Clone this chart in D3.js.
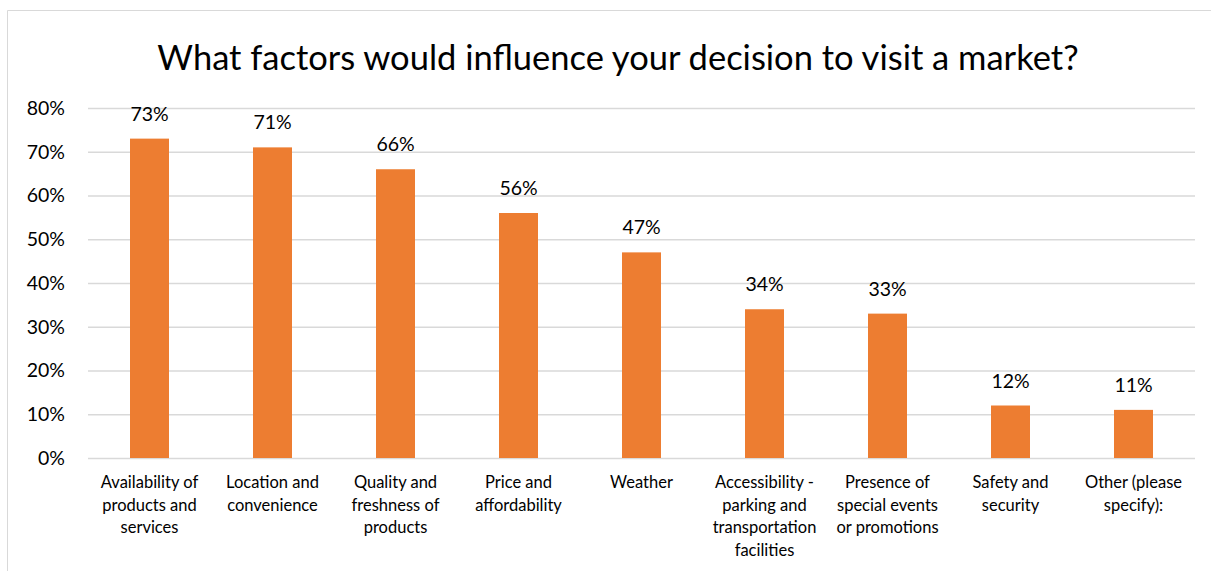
<!DOCTYPE html>
<html>
<head>
<meta charset="utf-8">
<script src="https://cdn.jsdelivr.net/npm/d3@7"></script>
<style>
  html, body { margin: 0; padding: 0; background: #fff; }
  svg { display: block; }
  text { font-family: Lato, "Open Sans", sans-serif; fill: #000; }
</style>
</head>
<body>
<svg id="chart" width="1211" height="571"></svg>
<script>
const title = "What factors would influence your decision to visit a market?";
const categories = [
  ["Availability of", "products and", "services"],
  ["Location and", "convenience"],
  ["Quality and", "freshness of", "products"],
  ["Price and", "affordability"],
  ["Weather"],
  ["Accessibility -", "parking and", "transportation", "facilities"],
  ["Presence of", "special events", "or promotions"],
  ["Safety and", "security"],
  ["Other (please", "specify):"]
];
const values = [73, 71, 66, 56, 47, 34, 33, 12, 11];
const yTicks = [0, 10, 20, 30, 40, 50, 60, 70, 80];

const svg = d3.select("#chart");
const W = 1211, H = 571;
const plot = { left: 88, right: 1195, top: 108, bottom: 458 };

// chart frame
svg.append("path")
  .attr("d", `M7.5,${H} V10.5 H${W}`)
  .attr("fill", "none")
  .attr("stroke", "#d9d9d9")
  .attr("stroke-width", 1);

svg.append("text")
  .attr("x", 618)
  .attr("y", 70)
  .attr("text-anchor", "middle")
  .style("font-size", "34.5px")
  .text(title);

const x = d3.scaleBand()
  .domain(d3.range(categories.length))
  .range([plot.left, plot.right])
  .paddingInner(0.683)
  .paddingOuter(0.3415);

const y = d3.scaleLinear().domain([0, 80]).range([plot.bottom, plot.top]);

// gridlines + y labels
const yAxis = d3.axisLeft(y)
  .tickValues(yTicks)
  .tickSize(-(plot.right - plot.left))
  .tickPadding(23)
  .tickFormat(d => d + "%");

const gy = svg.append("g")
  .attr("transform", `translate(${plot.left},0)`)
  .call(yAxis);
gy.select(".domain").remove();
gy.selectAll(".tick line").attr("stroke", "#d9d9d9").attr("stroke-width", 1.5);
gy.selectAll(".tick text")
  .style("font-size", "19.5px")
  .attr("fill", "#000");

// bars
svg.append("g").selectAll("rect")
  .data(values)
  .join("rect")
  .attr("x", (d, i) => x(i))
  .attr("width", x.bandwidth())
  .attr("y", d => y(d))
  .attr("height", d => y(0) - y(d))
  .attr("fill", "#ED7D31");

// value labels
svg.append("g").selectAll("text")
  .data(values)
  .join("text")
  .attr("x", (d, i) => x(i) + x.bandwidth() / 2)
  .attr("y", d => y(d) - 18)
  .attr("text-anchor", "middle")
  .style("font-size", "19.5px")
  .text(d => d + "%");

// category labels
const cat = svg.append("g").selectAll("text")
  .data(categories)
  .join("text")
  .attr("text-anchor", "middle")
  .style("font-size", "16.5px");
cat.each(function(lines, i) {
  const t = d3.select(this);
  lines.forEach((ln, j) => {
    t.append("tspan")
      .attr("x", x(i) + x.bandwidth() / 2)
      .attr("y", 488 + j * 22.6)
      .text(ln);
  });
});
</script>
</body>
</html>
